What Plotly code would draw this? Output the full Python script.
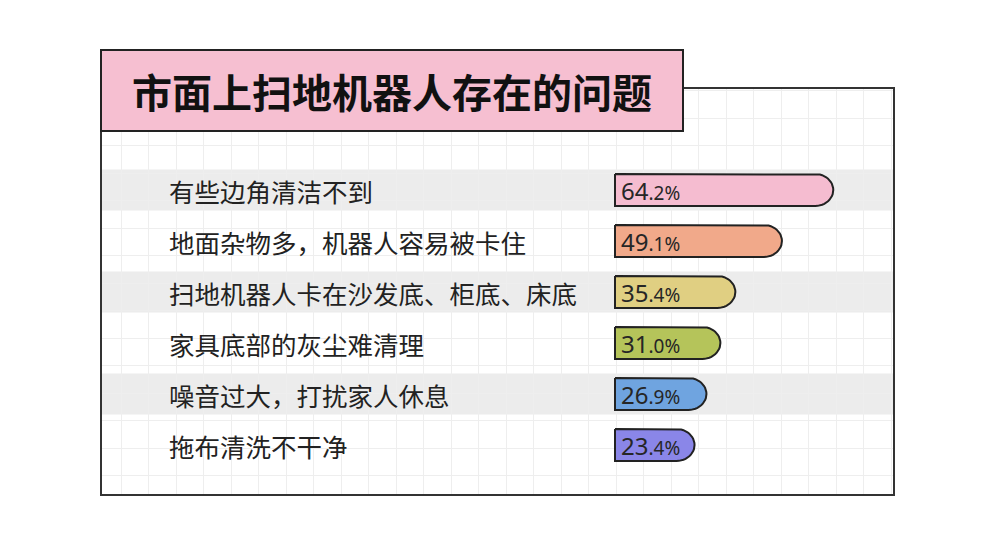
import numpy as np
import plotly.graph_objects as go

# 市面上扫地机器人存在的问题 —— 横向条形图

problems = ["有些边角清洁不到", "地面杂物多，机器人容易被卡住", "扫地机器人卡在沙发底、柜底、床底",
            "家具底部的灰尘难清理", "噪音过大，打扰家人休息", "拖布清洗不干净"]
shares = [64.2, 49.1, 35.4, 31.0, 26.9, 23.4]
bar_colors = ["#f5bcd0", "#f1a98a", "#e0cf82", "#b5c45a", "#6fa4e0", "#8a86e8"]

W, H = 1000, 544
off = 8                # 页面 body 自带的 8px 偏移
L, T = 101 - off, 88 - off
pw, ph = 793, 407
R, B = W - L - pw, H - T - ph
px_per_unit = 3.4      # 横轴每 1% 的像素
row_px = 51            # 每行的像素
zero_px = 615 - 101    # 0% 距左框的像素
first_row_px = 190 - 88

x_range = [-zero_px / px_per_unit, (pw - zero_px) / px_per_unit]
y_range = [(ph - first_row_px) / row_px, -first_row_px / row_px]

half_h = 16 / row_px
rx = 18 / px_per_unit

fig = go.Figure()

# 右端圆角的条形
t = np.linspace(-np.pi / 2, np.pi / 2, 25)
for i, (v, c) in enumerate(zip(shares, bar_colors)):
    xs = [0, v - rx] + list(v - rx + rx * np.cos(t)) + [v - rx, 0, 0]
    ys = [i - half_h, i - half_h] + list(i + half_h * np.sin(t)) + [i + half_h, i + half_h, i - half_h]
    fig.add_trace(go.Scatter(x=xs, y=ys, mode="lines", fill="toself", fillcolor=c,
                             line=dict(color="#222222", width=2), hoverinfo="skip", showlegend=False))

    whole, frac = f"{v:.1f}".split(".")
    fig.add_annotation(x=1.3, y=i, xref="x", yref="y", xanchor="left", yanchor="middle", showarrow=False,
                       text=f"{whole}<span style='font-size:19px'>.{frac}%</span>",
                       font=dict(family="Noto Sans", size=24, color="#262626"))

    fig.add_annotation(x=(167 - 101) / pw, y=i, xref="paper", yref="y", xanchor="left",
                       yanchor="middle", showarrow=False, text=problems[i],
                       font=dict(family="Noto Sans CJK SC", size=25.5, color="#222222"))

# 灰色隔行底纹
for i in range(0, len(problems), 2):
    fig.add_shape(type="rect", xref="paper", yref="y", x0=0, x1=1, y0=i - 0.40, y1=i + 0.40,
                  fillcolor="#ececec", line_width=0, layer="between")

# 外框
fig.add_shape(type="rect", xref="paper", yref="paper", x0=0, x1=1, y0=0, y1=1,
              line=dict(color="#333333", width=2), layer="above")

# 标题框
fig.add_shape(type="rect", xref="paper", yref="paper",
              x0=0, x1=(683 - 101) / pw, y0=(495 - 131) / ph, y1=(495 - 50) / ph,
              fillcolor="#f6bfd1", line=dict(color="#222222", width=2), layer="above")
fig.add_annotation(x=(683 - 101) / pw / 2, y=(495 - 91) / ph, xref="paper", yref="paper",
                   xanchor="center", yanchor="middle", showarrow=False,
                   text="<b>市面上扫地机器人存在的问题</b>",
                   font=dict(family="Noto Sans CJK SC", size=40, color="#111111"))

fig.update_layout(
    width=W, height=H, margin=dict(l=L, r=R, t=T, b=B),
    paper_bgcolor="white", plot_bgcolor="white", showlegend=False,
    xaxis=dict(range=x_range, showticklabels=False, zeroline=False, showgrid=True,
               gridcolor="#eeeeee", gridwidth=1, tick0=24.7, dtick=27.5 / px_per_unit, fixedrange=True),
    yaxis=dict(range=y_range, showticklabels=False, zeroline=False, showgrid=True,
               gridcolor="#eeeeee", gridwidth=1, tick0=-1.41, dtick=27.5 / row_px, fixedrange=True),
)

fig.write_html("out.html")
